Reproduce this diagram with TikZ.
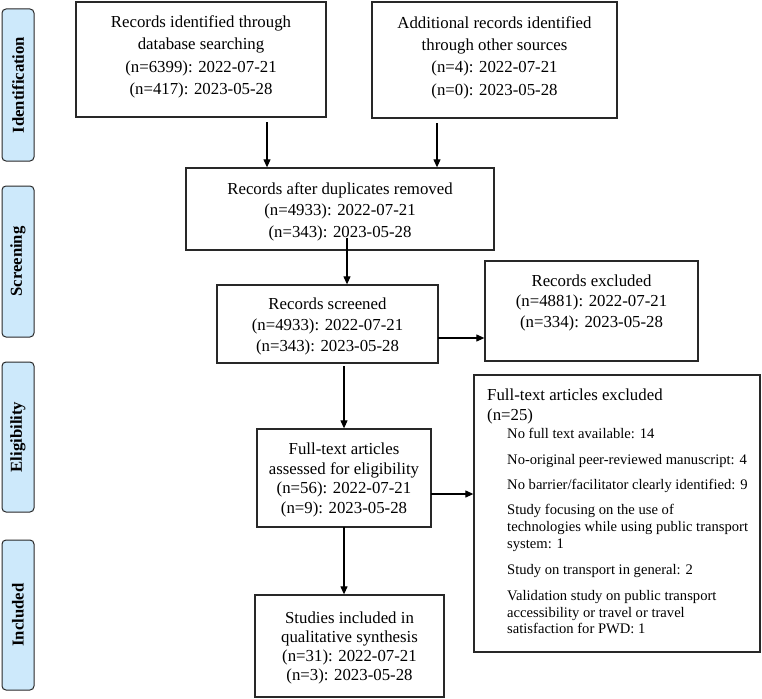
\documentclass[tikz,border=0pt]{standalone}
\usepackage{fontspec}
\setmainfont{Liberation Serif}
\usetikzlibrary{arrows.meta}
\definecolor{barblue}{RGB}{205,233,251}
\definecolor{edge}{RGB}{40,40,40}
\begin{document}
\begin{tikzpicture}[x=1pt,y=-1pt,
  box/.style={draw=edge, line width=1.3pt, rectangle, inner sep=0pt},
  txt/.style={align=center, inner sep=0pt, font=\fontsize{16.8}{22.3}\selectfont},
  hdr/.style={anchor=base west, inner sep=0pt, font=\fontsize{16.8}{20}\selectfont},
  itm/.style={anchor=base west, inner sep=0pt, font=\fontsize{14.6}{17}\selectfont},
  bar/.style={draw=edge, fill=barblue, rounded corners=4pt, line width=1pt, rotate=90,
    minimum height=32pt, inner sep=0pt, font=\fontsize{16.7}{20}\selectfont\bfseries},
  arr/.style={line width=1.1pt, -{Triangle[length=8pt,width=7pt]}},
]
\useasboundingbox (0,0) rectangle (762,698);

% phase bars
\node[bar, minimum width=152pt] (bid) at (18,85) {Identification};
\node[bar, minimum width=151pt] (bsc) at (18,261.5) {Screening};
\node[bar, minimum width=150pt] (bel) at (18,437) {Eligibility};
\node[bar, minimum width=150pt] (bin) at (18,615) {Included};

% boxes
\node[box, minimum width=250pt, minimum height=115pt] (b1) at (201,59.5) {};
\node[txt] (b1t) at (201,57) {Records identified through\\database searching\\(n=6399): 2022-07-21\\(n=417): 2023-05-28};

\node[box, minimum width=245pt, minimum height=116pt] (b2) at (494.5,60) {};
\node[txt] (b2t) at (494.5,57.5) {Additional records identified\\through other sources\\(n=4): 2022-07-21\\(n=0): 2023-05-28};

\node[box, minimum width=308pt, minimum height=82pt] (dup) at (340,209) {};
\node[txt, font=\fontsize{16.8}{21.5}\selectfont] (dupt) at (340,211.5) {Records after duplicates removed\\(n=4933): 2022-07-21\\(n=343): 2023-05-28};

\node[box, minimum width=221pt, minimum height=78pt] (scr) at (327.5,324) {};
\node[txt, font=\fontsize{16.8}{21}\selectfont] (scrt) at (327.5,326) {Records screened\\(n=4933): 2022-07-21\\(n=343): 2023-05-28};

\node[box, minimum width=213pt, minimum height=100pt] (excl) at (591.5,311) {};
\node[txt, font=\fontsize{16.8}{20.5}\selectfont] (exclt) at (591.5,302.5) {Records excluded\\(n=4881): 2022-07-21\\(n=334): 2023-05-28};

\node[box, minimum width=174pt, minimum height=98pt] (full) at (344,478) {};
\node[txt, font=\fontsize{16.8}{19.7}\selectfont] (fullt) at (344,480) {Full-text articles\\assessed for eligibility\\(n=56): 2022-07-21\\(n=9): 2023-05-28};

\node[box, minimum width=189pt, minimum height=102pt] (stud) at (349.5,646) {};
\node[txt, font=\fontsize{16.8}{19}\selectfont] (studt) at (349.5,648) {Studies included in\\qualitative synthesis\\(n=31): 2022-07-21\\(n=3): 2023-05-28};

\node[box, minimum width=286pt, minimum height=277pt] (rb) at (617,513.5) {};
\node[hdr] (r1) at (487,400) {Full-text articles excluded};
\node[hdr] (r2) at (487,420) {(n=25)};
\node[itm] (r3) at (507,438) {No full text available: 14};
\node[itm] (r4) at (507,464) {No-original peer-reviewed manuscript: 4};
\node[itm] (r5) at (507,489) {No barrier/facilitator clearly identified: 9};
\node[itm] (r6) at (507,514) {Study focusing on the use of};
\node[itm] (r7) at (507,531) {technologies while using public transport};
\node[itm] (r8) at (507,548) {system: 1};
\node[itm] (r9) at (507,574) {Study on transport in general: 2};
\node[itm] (r10) at (507,600) {Validation study on public transport};
\node[itm] (r11) at (507,617) {accessibility or travel or travel};
\node[itm] (r12) at (507,633) {satisfaction for PWD: 1};

% connectors
\coordinate (a1s) at (267,122);
\draw[arr] (a1s) -- (a1s |- dup.north);
\coordinate (a2s) at (437,123);
\draw[arr] (a2s) -- (a2s |- dup.north);
\coordinate (a3s) at (347,238);
\draw[arr] (a3s) -- (a3s |- scr.north);
\coordinate (a4s) at (438,338);
\draw[arr] (a4s) -- (a4s -| excl.west);
\coordinate (a5s) at (344,366);
\draw[arr] (a5s) -- (a5s |- full.north);
\coordinate (a6s) at (431,494);
\draw[arr] (a6s) -- (a6s -| rb.west);
\coordinate (a7s) at (344,527);
\draw[arr] (a7s) -- (a7s |- stud.north);
\end{tikzpicture}
\end{document}
